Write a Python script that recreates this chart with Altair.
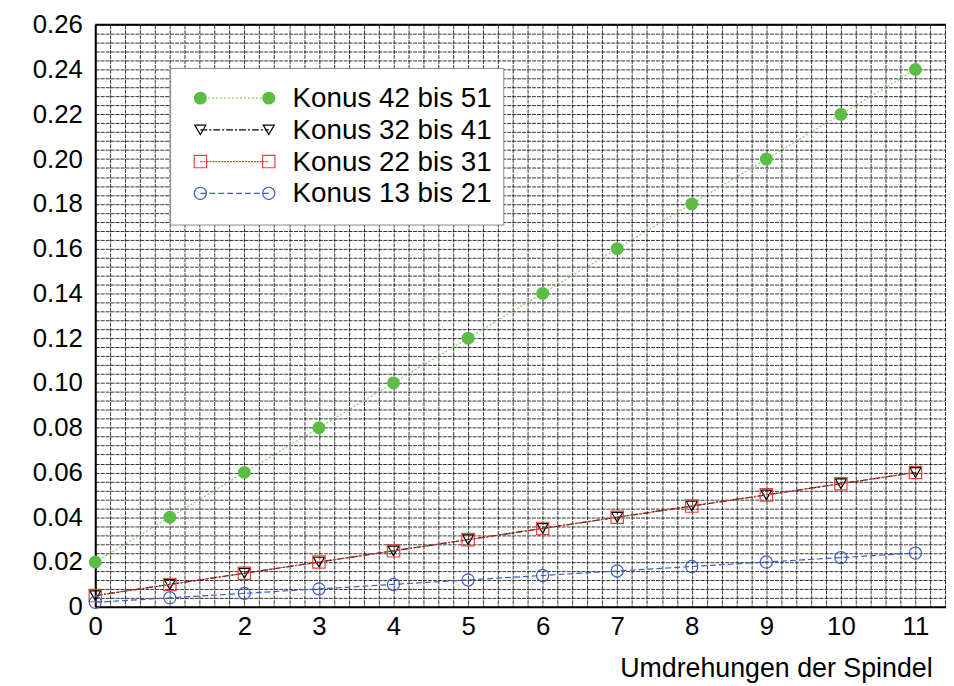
import altair as alt
import pandas as pd

# ---- data ----
umdrehungen = [0, 1, 2, 3, 4, 5, 6, 7, 8, 9, 10, 11]
konus_42_51 = [0.02, 0.04, 0.06, 0.08, 0.10, 0.12, 0.14, 0.16, 0.18, 0.20, 0.22, 0.24]
konus_32_41 = [0.005, 0.010, 0.015, 0.020, 0.025, 0.030, 0.035, 0.040, 0.045, 0.050, 0.055, 0.060]
konus_22_31 = [0.005, 0.010, 0.015, 0.020, 0.025, 0.030, 0.035, 0.040, 0.045, 0.050, 0.055, 0.060]
konus_13_21 = [0.002, 0.004, 0.006, 0.008, 0.010, 0.012, 0.014, 0.016, 0.018, 0.020, 0.022, 0.024]

series_names = ["Konus 42 bis 51", "Konus 32 bis 41", "Konus 22 bis 31", "Konus 13 bis 21"]
series_values = [konus_42_51, konus_32_41, konus_22_31, konus_13_21]

title_text = "KV- Werte der Ventile"
x_title = "Umdrehungen der Spindel"

# axis tick/grid positions
y_grid = [round(i * 0.004, 3) for i in range(66)]
x_grid = [round(i * 0.2, 1) for i in range(58)]

# ---- styles ----
styles = [
    dict(line="#7fcf6a", dash=[2, 2], marker="#5cbd45", shape="circle", filled=True, size=170),
    dict(line="#000000", dash=[7, 2, 2, 2], marker="#000000", shape="triangle-down", filled=False, size=125),
    dict(line="#e0403a", dash=[2, 1], marker="#e5433c", shape="square", filled=False, size=155),
    dict(line="#3c5fbf", dash=[6, 3], marker="#3c5fbf", shape="circle", filled=False, size=150),
]

W, H = 858, 587
FONT = "Liberation Sans"

xs = alt.Scale(domain=[0, W / 75.2], nice=False, zero=False)
ys = alt.Scale(domain=[0, 0.26], nice=False)

x_axis = alt.Axis(
    values=x_grid, tickCount=500, grid=True, ticks=False, title=x_title,
    labelExpr="abs(datum.value - round(datum.value)) < 0.001 ? format(datum.value, 'd') : ''",
    labelOverlap=False, labelFlush=False, labelFontSize=26, labelPadding=7, labelColor="#000",
    titleFontSize=27, titleFontWeight="normal", titleColor="#000",
    titleAnchor="start", titleAlign="right", titleX=844, titleY=70, titleBaseline="alphabetic",
)
y_axis = alt.Axis(
    values=y_grid, tickCount=500, grid=True, ticks=False, title=None,
    labelExpr="abs(datum.value * 50 - round(datum.value * 50)) < 0.001 ? (datum.value == 0 ? '0' : format(datum.value, '.2f')) : ''",
    labelOverlap=False, labelFlush=False, labelFontSize=26, labelPadding=13, labelColor="#000",
)

layers = []

# axes carrier (invisible)
layers.append(
    alt.Chart(pd.DataFrame({"x": [0], "y": [0]})).mark_point(opacity=0).encode(
        x=alt.X("x:Q", scale=xs, axis=x_axis),
        y=alt.Y("y:Q", scale=ys, axis=y_axis),
    )
)

for name, vals, st in zip(series_names, series_values, styles):
    df = pd.DataFrame({"x": umdrehungen, "y": vals, "serie": name})
    line = alt.Chart(df).mark_line(color=st["line"], strokeDash=st["dash"], strokeWidth=1.2).encode(
        x=alt.X("x:Q", scale=xs), y=alt.Y("y:Q", scale=ys)
    )
    if st["filled"]:
        pt = alt.Chart(df).mark_point(shape=st["shape"], filled=True, color=st["marker"], size=st["size"], opacity=1).encode(
            x=alt.X("x:Q", scale=xs), y=alt.Y("y:Q", scale=ys)
        )
    else:
        pt = alt.Chart(df).mark_point(shape=st["shape"], filled=False, stroke=st["marker"], fillOpacity=0,
                                      strokeWidth=1.2, size=st["size"], opacity=1).encode(
            x=alt.X("x:Q", scale=xs), y=alt.Y("y:Q", scale=ys)
        )
    layers += [line, pt]

# top border
one = pd.DataFrame({"a": [0]})
layers.append(
    alt.Chart(one).mark_rule(color="#000", strokeWidth=2).encode(
        x=alt.value(0), x2=alt.value(W), y=alt.value(0)
    )
)

# ---- manual legend ----
LX0, LX1, LY0, LY1 = 76, 412, 44, 202
layers.append(
    alt.Chart(one).mark_rect(fill="white", stroke="#888", strokeWidth=1).encode(
        x=alt.value(LX0), x2=alt.value(LX1), y=alt.value(LY0), y2=alt.value(LY1)
    )
)
row_y = [74, 106, 138, 170]
for name, st, ry in zip(series_names, styles, row_y):
    layers.append(
        alt.Chart(one).mark_rule(color=st["line"], strokeDash=st["dash"], strokeWidth=1.2).encode(
            x=alt.value(106), x2=alt.value(175), y=alt.value(ry)
        )
    )
    for px in (106, 175):
        if st["filled"]:
            m = alt.Chart(one).mark_point(shape=st["shape"], filled=True, color=st["marker"], size=st["size"], opacity=1)
        else:
            m = alt.Chart(one).mark_point(shape=st["shape"], filled=False, stroke=st["marker"], fillOpacity=0,
                                          strokeWidth=1.2, size=st["size"], opacity=1)
        layers.append(m.encode(x=alt.value(px), y=alt.value(ry)))
    layers.append(
        alt.Chart(pd.DataFrame({"t": [name]})).mark_text(
            align="left", baseline="middle", fontSize=28, font=FONT, color="#000"
        ).encode(x=alt.value(199), y=alt.value(ry + 1), text="t:N")
    )

# title (mostly above the visible page, as in the reference)
layers.append(
    alt.Chart(pd.DataFrame({"t": [title_text]})).mark_text(
        align="center", baseline="alphabetic", fontSize=25, fontWeight="bold", font=FONT, color="#000"
    ).encode(x=alt.value(414), y=alt.value(-19), text="t:N")
)

chart = alt.layer(*layers).properties(
    width=W, height=H,
    autosize=alt.AutoSizeParams(type="none"),
    padding={"left": 88, "top": 14, "right": 0, "bottom": 80},
).configure(
    font=FONT,
).configure_view(
    stroke=None,
).configure_axis(
    domainColor="#000", domainWidth=2,
    gridColor="#000", gridWidth=1, gridDash=[4, 1], gridOpacity=0.8,
    labelFont=FONT, titleFont=FONT,
)

chart.save("out.html", embed_options={"renderer": "svg", "actions": False})
